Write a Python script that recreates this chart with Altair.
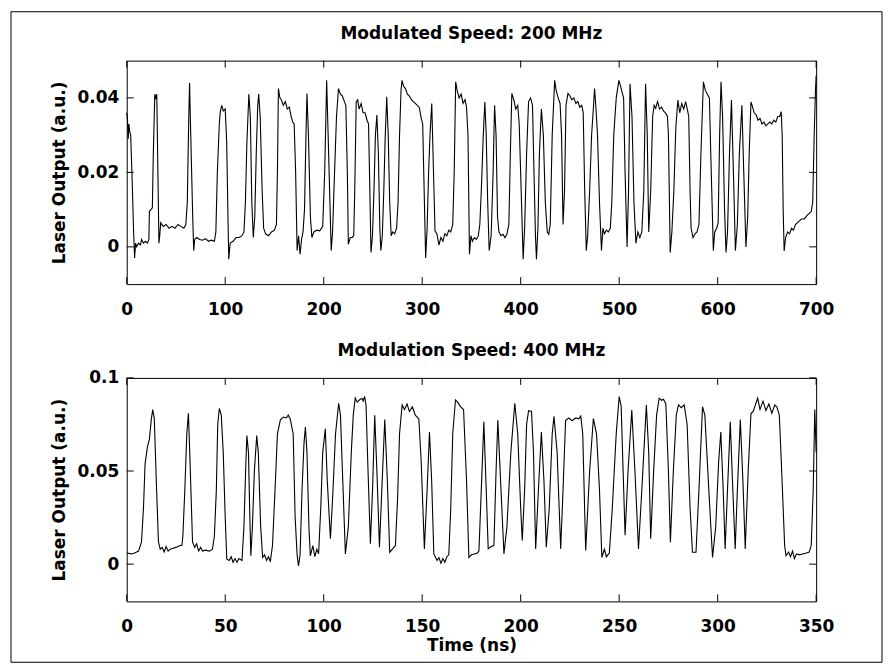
import altair as alt
import pandas as pd

# ---------------- data ----------------
trace_200 = [
    (0, 0.036), (0.8, 0.034), (1.5, 0.029), (2.2, 0.033), (3, 0.031), (4, 0.030), (5.5, 0.018),
    (7, 0.004), (8, -0.003), (9, 0.001), (10, 0.0), (12, 0.001), (14, 0.0005), (15, 0.002),
    (17, 0.001), (19, 0.0015), (21, 0.001), (22.5, 0.002), (23, 0.0095), (24.5, 0.010), (26, 0.0105),
    (27, 0.025), (28.5, 0.041), (29.5, 0.040), (30.5, 0.041), (32.7, 0.001), (33.5, 0.003),
    (34.5, 0.0065), (37, 0.0055), (40, 0.006), (43, 0.005), (46, 0.0055), (49, 0.005), (52, 0.006),
    (55, 0.0055), (58, 0.005), (60, 0.006), (61.5, 0.012), (63, 0.035), (63.8, 0.044), (65, 0.03),
    (67, 0.008), (68, -0.001), (69, 0.002), (71, 0.0025), (74, 0.002), (77, 0.0018), (80, 0.0022),
    (83, 0.0015), (86, 0.0018), (89, 0.0015), (90.5, 0.004), (92, 0.020), (94, 0.033), (95, 0.0363),
    (96.5, 0.038), (98, 0.0365), (100, 0.037), (101.5, 0.028), (103, 0.005), (103.6, -0.0033),
    (105, 0.001), (108, 0.0015), (111, 0.0025), (114, 0.0025), (117, 0.003), (119, 0.004),
    (120.5, 0.012), (122, 0.028), (124, 0.041), (125.5, 0.035), (127, 0.012), (128.5, 0.0025),
    (130, 0.008), (131.5, 0.025), (133, 0.038), (134, 0.041), (135.5, 0.035), (137.5, 0.015),
    (139, 0.005), (141, 0.0035), (144, 0.003), (147, 0.004), (150, 0.0045), (152, 0.006),
    (153, 0.02), (154, 0.0425), (155.5, 0.040), (157, 0.0395), (159, 0.038), (161, 0.039),
    (163, 0.037), (165, 0.0375), (167, 0.035), (168.5, 0.0335), (170, 0.033), (171.5, 0.02),
    (173, -0.001), (174.5, 0.003), (176, -0.002), (177.5, 0.002), (179, 0.004), (180.5, 0.010),
    (182, 0.03), (183, 0.0412), (184.5, 0.03), (186.5, 0.008), (188, 0.0025), (190, 0.004),
    (193, 0.0045), (196, 0.0043), (199, 0.0055), (201, 0.02), (203, 0.0447), (205, 0.025),
    (207.6, -0.001), (209, 0.004), (211, 0.02), (213, 0.035), (215, 0.0425), (217, 0.041),
    (219, 0.0405), (221, 0.039), (222.5, 0.038), (224, 0.02), (225, 0.0007), (227, 0.0025),
    (229, 0.0025), (230.5, 0.003), (231.5, 0.015), (233, 0.0389), (234.5, 0.0395), (236, 0.037),
    (238, 0.0385), (240, 0.036), (242, 0.036), (244, 0.034), (245.5, 0.033), (246.5, 0.02),
    (248, -0.0015), (249.5, 0.003), (251, 0.015), (252.5, 0.03), (254, 0.0354), (255.5, 0.025),
    (257, 0.005), (258, -0.001), (259.5, 0.003), (261, 0.015), (262.5, 0.03), (264, 0.0403),
    (265.5, 0.03), (267, 0.012), (268.5, 0.003), (270, 0.004), (272, 0.0035), (274, 0.005),
    (275.5, 0.012), (277, 0.03), (278.5, 0.042), (279.5, 0.0447), (281, 0.0432), (283, 0.0425),
    (285, 0.041), (287, 0.0405), (289, 0.0395), (291, 0.039), (293, 0.0385), (295, 0.038),
    (297, 0.0375), (299, 0.0345), (300.5, 0.033), (302, 0.015), (303.5, -0.003), (305, 0.005),
    (306.5, 0.02), (308, 0.0305), (309.7, 0.0385), (311, 0.025), (313, 0.0043), (315, 0.0034),
    (317, 0.0005), (319, 0.0025), (321, 0.0015), (323, 0.0035), (325, 0.003), (327, 0.0045),
    (329, 0.004), (331, 0.006), (332.5, 0.02), (334, 0.0443), (335.5, 0.042), (337.5, 0.040),
    (339.5, 0.041), (341.5, 0.0385), (343.5, 0.0395), (345, 0.0375), (346.5, 0.03), (348, -0.002),
    (349.5, 0.003), (351, 0.0015), (353, 0.0025), (355, 0.002), (357, 0.003), (358.5, 0.006),
    (360, 0.015), (362, 0.03), (363.6, 0.0389), (365, 0.03), (366.5, 0.012), (368, -0.001),
    (370, 0.003), (372, 0.02), (373.5, 0.038), (375, 0.03), (376.5, 0.008), (378, 0.004),
    (380, 0.003), (382, 0.0034), (384, 0.0025), (386, 0.0034), (388, 0.006), (389.5, 0.025),
    (391, 0.0412), (393, 0.0395), (395, 0.037), (397, 0.038), (398.5, 0.033), (400.5, 0.015),
    (402.5, -0.0033), (404, 0.005), (406, 0.025), (408, 0.039), (410, 0.040), (412, 0.038),
    (413.5, 0.02), (415, 0.003), (416, -0.0033), (417.5, 0.005), (419, 0.025), (421, 0.0370),
    (423, 0.03), (425, 0.012), (427, 0.004), (428.5, 0.0034), (430, 0.006), (432, 0.03),
    (434.5, 0.0447), (436, 0.042), (438, 0.040), (440, 0.0385), (441.5, 0.03), (443, 0.006),
    (444.5, 0.015), (446, 0.038), (448, 0.0412), (450, 0.0405), (452, 0.0395), (454, 0.040),
    (456, 0.0385), (458, 0.039), (460, 0.0375), (462, 0.038), (463.5, 0.036), (465, 0.015),
    (466.6, -0.001), (468, 0.003), (470, 0.015), (472, 0.03), (474, 0.038), (475, 0.0425),
    (476.5, 0.037), (478, 0.03), (480, 0.012), (482, -0.001), (483.5, 0.005), (485, 0.0035),
    (487, 0.0045), (489, 0.004), (491, 0.005), (492.5, 0.012), (494.5, 0.03), (497, 0.040),
    (499.7, 0.0447), (501.5, 0.043), (503, 0.0415), (504.5, 0.040), (506, 0.02), (508, 0.0),
    (509.5, 0.015), (511, 0.0438), (513, 0.035), (515, 0.012), (517, 0.001), (519, 0.004),
    (521, 0.0025), (523, 0.004), (525, 0.015), (526.8, 0.0438), (528.5, 0.03), (530, 0.004),
    (532, 0.015), (534, 0.035), (535.5, 0.038), (537, 0.0372), (539, 0.039), (541, 0.037),
    (543, 0.0375), (545, 0.0365), (547, 0.036), (549, 0.035), (550, 0.03), (551.8, -0.0015),
    (553.5, 0.004), (555.5, 0.015), (557.5, 0.032), (559.6, 0.0394), (561.5, 0.036),
    (563.5, 0.0385), (565.5, 0.037), (567.5, 0.039), (569.5, 0.0365), (570.6, 0.035),
    (572, 0.015), (573, 0.005), (575, 0.0025), (577, 0.0035), (579, 0.004), (581, 0.006),
    (583, 0.025), (585.5, 0.0443), (587.5, 0.042), (589.5, 0.041), (591.6, 0.040), (593, 0.025),
    (595.6, -0.001), (597, 0.004), (599, 0.005), (600.5, 0.0065), (602, 0.03), (603.4, 0.0443),
    (605, 0.035), (607, 0.01), (608.5, -0.0015), (610, 0.004), (612, 0.025), (614, 0.0394),
    (616, 0.02), (618, -0.001), (620, 0.006), (622, 0.025), (624.6, 0.0380), (626.5, 0.02),
    (628.7, 0.0), (630.5, 0.008), (632, 0.025), (633.8, 0.0389), (635, 0.0380), (637, 0.036),
    (639, 0.0355), (641, 0.034), (643, 0.0345), (645, 0.0330), (647, 0.0335), (649, 0.0325),
    (651, 0.033), (653, 0.0335), (655, 0.033), (657, 0.034), (659, 0.0335), (661, 0.035),
    (663, 0.035), (664.5, 0.0363), (665.5, 0.03), (666.5, 0.01), (667.5, -0.0011), (669, 0.0025),
    (671, 0.004), (673, 0.0035), (675, 0.005), (677, 0.0045), (679, 0.006), (681, 0.0065),
    (683, 0.007), (685, 0.0075), (688, 0.0075), (691, 0.0085), (693, 0.009), (695, 0.0095),
    (696.5, 0.012), (698, 0.03), (699.3, 0.042), (700, 0.046),
]

trace_400 = [
    (0, 0.006), (2.5, 0.0055), (4, 0.006), (6, 0.007), (7.5, 0.012), (8.5, 0.03), (9.3, 0.0536),
    (10.5, 0.063), (11.5, 0.067), (12.5, 0.078), (13.2, 0.083), (14, 0.078), (15, 0.045),
    (16.1, 0.012), (17, 0.008), (18, 0.009), (19, 0.0065), (20, 0.0095), (21, 0.007), (22, 0.008),
    (23.5, 0.0085), (25, 0.009), (27, 0.010), (28, 0.010), (28.5, 0.015), (29.5, 0.04),
    (30.5, 0.07), (31.3, 0.081), (32, 0.06), (33.4, 0.012), (34.5, 0.009), (35.5, 0.011),
    (36.5, 0.007), (37.5, 0.009), (38.5, 0.007), (40, 0.0075), (42, 0.007), (43.5, 0.008),
    (44.5, 0.015), (45.5, 0.04), (46.2, 0.075), (47, 0.0836), (48, 0.08), (49, 0.06), (50, 0.025),
    (50.8, 0.0027), (52, 0.002), (53, 0.004), (54, 0.001), (55, 0.003), (56, 0.001), (57, 0.003),
    (58.5, 0.002), (59.5, 0.02), (60.5, 0.055), (61, 0.069), (61.8, 0.06), (62.4, 0.03),
    (63, 0.0045), (63.8, 0.02), (64.8, 0.05), (66, 0.069), (66.8, 0.06), (68, 0.02), (69, 0.0036),
    (70, 0.005), (71, 0.002), (72, 0.004), (72.9, 0.0013), (74, 0.01), (75.5, 0.045), (76.5, 0.07),
    (78, 0.0775), (79.5, 0.079), (81, 0.0785), (82, 0.080), (83, 0.078), (84.5, 0.07),
    (85.5, 0.025), (86.5, 0.005), (87.2, -0.0009), (88, 0.005), (89, 0.04), (90, 0.065),
    (90.7, 0.0736), (91.5, 0.06), (92.5, 0.02), (93.2, 0.0045), (94.5, 0.010), (95.5, 0.004),
    (96.5, 0.008), (97.4, 0.0055), (98.5, 0.03), (99.5, 0.06), (100.8, 0.0727), (101.8, 0.045),
    (103.4, 0.0136), (104.5, 0.035), (106, 0.07), (107.6, 0.0864), (108.5, 0.08), (109.5, 0.05),
    (111, 0.0055), (112.5, 0.02), (114, 0.06), (115, 0.08), (116, 0.0892), (117, 0.087),
    (118.5, 0.0885), (119.5, 0.089), (120, 0.0875), (120.8, 0.090), (121.5, 0.085), (122.5, 0.05),
    (123.7, 0.011), (124.8, 0.04), (125.9, 0.0800), (127, 0.05), (128.3, 0.0091), (129.5, 0.04),
    (131, 0.0776), (132.3, 0.045), (133.5, 0.0064), (135, 0.0082), (136.4, 0.010), (137.5, 0.035),
    (138.5, 0.07), (139.8, 0.0855), (141, 0.083), (142.3, 0.086), (143.5, 0.082), (145, 0.0845),
    (146.5, 0.080), (148.3, 0.078), (149.5, 0.055), (151.1, 0.0082), (152.5, 0.04),
    (153.7, 0.0709), (154.8, 0.045), (155.9, 0.0055), (157.5, 0.002), (158.5, 0.0035),
    (159.5, 0.0005), (160.5, 0.003), (161.5, 0.001), (162.5, 0.004), (163.5, 0.005),
    (164.5, 0.03), (165.5, 0.07), (166.9, 0.0882), (168, 0.087), (169.5, 0.0845), (171, 0.083),
    (172.5, 0.045), (173.7, 0.0036), (175, 0.005), (176.5, 0.0055), (178, 0.006), (178.8, 0.007),
    (180, 0.04), (181.3, 0.0764), (182.5, 0.04), (183.5, 0.0082), (185, 0.0095), (186.4, 0.010),
    (187.5, 0.05), (188.4, 0.0773), (190, 0.04), (191.5, 0.0055), (193, 0.02), (195, 0.06),
    (197, 0.0864), (198.5, 0.07), (200, 0.03), (200.8, 0.0127), (202, 0.04), (203, 0.075),
    (204, 0.0824), (205.5, 0.082), (206.5, 0.06), (207.6, 0.0082), (209, 0.04), (210.5, 0.0709),
    (211.8, 0.045), (213, 0.0091), (214.5, 0.03), (216, 0.07), (216.9, 0.0794), (218.5, 0.06),
    (220.3, 0.0082), (221.5, 0.04), (222.8, 0.0773), (224.5, 0.0785), (226, 0.077),
    (228, 0.0785), (229.5, 0.078), (230.5, 0.0795), (231.5, 0.07), (233, 0.0073), (235, 0.05),
    (236.9, 0.0782), (238.5, 0.07), (240, 0.04), (241.2, 0.0036), (242.5, 0.008), (243.5, 0.004),
    (245, 0.006), (246.5, 0.03), (248.5, 0.07), (250, 0.0900), (251, 0.085), (252, 0.05),
    (253, 0.0155), (254.5, 0.05), (256.4, 0.0827), (258, 0.05), (259.8, 0.0082), (261.5, 0.04),
    (263.8, 0.0855), (265, 0.06), (266, 0.0136), (267.5, 0.05), (269, 0.08), (270.3, 0.0891),
    (271.5, 0.088), (272.5, 0.0885), (273.7, 0.086), (275, 0.05), (276, 0.0118), (277.5, 0.05),
    (279, 0.08), (280.1, 0.0855), (281.5, 0.084), (283, 0.0855), (284.5, 0.075), (286, 0.03),
    (287.2, 0.0064), (289, 0.0064), (290.5, 0.04), (292.3, 0.0845), (293.5, 0.08), (295.5, 0.04),
    (297.4, 0.0036), (299, 0.02), (300.5, 0.055), (301.6, 0.0709), (302.8, 0.04), (303.8, 0.0082),
    (305, 0.04), (306.4, 0.0764), (307.5, 0.045), (308.9, 0.0082), (310, 0.04), (311.5, 0.0776),
    (312.8, 0.045), (314, 0.0082), (315.5, 0.05), (316.9, 0.0809), (318, 0.082), (319, 0.085),
    (320.3, 0.0891), (321.5, 0.083), (323, 0.0875), (324.5, 0.0825), (326, 0.086), (327.5, 0.081),
    (329, 0.0855), (330, 0.0845), (331.3, 0.080), (332.5, 0.05), (334, 0.01), (334.7, 0.0045),
    (336, 0.0065), (337, 0.004), (338, 0.007), (339, 0.003), (340, 0.0055), (341.5, 0.005),
    (343.2, 0.0055), (345, 0.006), (346.5, 0.0065), (347.5, 0.01), (348.5, 0.04), (349.3, 0.083),
    (350, 0.06),
]

x_ticks_200 = [0, 100, 200, 300, 400, 500, 600, 700]
y_ticks_200 = [0, 0.02, 0.04]
x_ticks_400 = [0, 50, 100, 150, 200, 250, 300, 350]
y_ticks_400 = [0, 0.05, 0.1]

title_200 = "Modulated Speed: 200 MHz"
title_400 = "Modulation Speed: 400 MHz"
y_title = "Laser Output (a.u.)"
x_title = "Time (ns)"

# ---------------- layout ----------------
W, H = 691, 224
TICK = 7
FONT = "DejaVu Sans"
FS = 17


def panel(trace, xdom, ydom, xticks, yticks, title, xtitle, border=False):
    df = pd.DataFrame(trace, columns=["t", "y"])
    xs = alt.Scale(domain=xdom, nice=False, zero=False)
    ys = alt.Scale(domain=ydom, nice=False, zero=False)
    xaxis = alt.Axis(values=xticks, title=xtitle, format="d", labelPadding=17,
                     titlePadding=3, labelFlush=False, labelOverlap=False,
                     ticks=False, domain=False, grid=False)
    yaxis = alt.Axis(values=yticks, title=y_title, format="~r", labelPadding=8,
                     titlePadding=8, labelFlush=False, labelOverlap=False,
                     ticks=False, domain=False, grid=False)
    line = alt.Chart(df).mark_line(color="black", strokeWidth=1.1).encode(
        x=alt.X("t:Q", scale=xs, axis=xaxis),
        y=alt.Y("y:Q", scale=ys, axis=yaxis),
    )
    xt = pd.DataFrame({"t": xticks})
    yt = pd.DataFrame({"y": yticks})
    xb = alt.Chart(xt).mark_rule(color="black").encode(
        x=alt.X("t:Q", scale=xs, axis=xaxis), y=alt.value(H), y2=alt.value(H - TICK))
    xtop = alt.Chart(xt).mark_rule(color="black").encode(
        x=alt.X("t:Q", scale=xs, axis=xaxis), y=alt.value(0), y2=alt.value(TICK))
    yl = alt.Chart(yt).mark_rule(color="black").encode(
        y=alt.Y("y:Q", scale=ys, axis=yaxis), x=alt.value(0), x2=alt.value(TICK))
    yr = alt.Chart(yt).mark_rule(color="black").encode(
        y=alt.Y("y:Q", scale=ys, axis=yaxis), x=alt.value(W - TICK), x2=alt.value(W))
    head = alt.Chart(pd.DataFrame({"label": [title]})).mark_text(
        font=FONT, fontSize=FS, fontWeight="bold", color="black",
        align="center", baseline="middle").encode(
        text="label:N", x=alt.value(W / 2), y=alt.value(-27))
    layers = [line, xb, xtop, yl, yr, head]
    if border:
        frame = alt.Chart(pd.DataFrame({"k": [0]})).mark_rect(
            filled=False, stroke="black", strokeWidth=1).encode(
            x=alt.value(-116), x2=alt.value(757), y=alt.value(-49), y2=alt.value(603))
        layers.append(frame)
    return alt.layer(*layers).properties(width=W, height=H)


top = panel(trace_200, [0, 700], [-0.01, 0.05], x_ticks_200, y_ticks_200, title_200, None, border=True)
bottom = panel(trace_400, [0, 350], [-0.02, 0.1], x_ticks_400, y_ticks_400, title_400, x_title)

chart = alt.vconcat(top, bottom, spacing=94, bounds="flush").properties(
    padding={"left": 2, "top": 2, "right": 2, "bottom": 2},
    background="white",
).configure_view(
    stroke="black", strokeWidth=1,
).configure_axis(
    labelFont=FONT, labelFontSize=FS, labelFontWeight="bold", labelColor="black",
    titleFont=FONT, titleFontSize=FS, titleFontWeight="bold", titleColor="black",
)

chart.save("out.html", embed_options={"renderer": "svg", "actions": False})
